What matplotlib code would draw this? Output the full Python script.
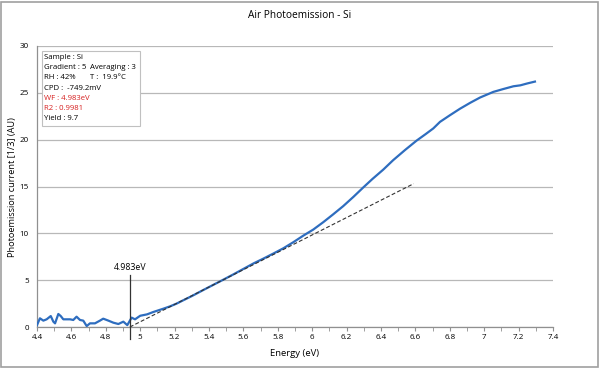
import matplotlib
matplotlib.use("Agg")
from matplotlib import pyplot as plt
from matplotlib.patches import Rectangle

plt.rcParams['font.family'] = ['Open Sans', 'DejaVu Sans']

# photoemission curve
energia = [4.40, 4.417, 4.437, 4.456, 4.48, 4.495, 4.505, 4.524, 4.538, 4.553,
           4.592, 4.611, 4.63, 4.65, 4.669, 4.689, 4.708, 4.737, 4.766, 4.785,
           4.815, 4.844, 4.873, 4.902, 4.925, 4.95, 4.97, 5.0, 5.04, 5.076,
           5.134, 5.173, 5.212, 5.25, 5.30, 5.367, 5.425, 5.483, 5.54, 5.6,
           5.66, 5.716, 5.775, 5.832, 5.89, 5.948, 6.006, 6.065, 6.12, 6.18,
           6.24, 6.297, 6.35, 6.413, 6.47, 6.54, 6.607, 6.66, 6.704, 6.743,
           6.80, 6.859, 6.92, 6.976, 7.053, 7.11, 7.17, 7.21, 7.25, 7.295]
corrente = [0.2, 0.93, 0.68, 0.82, 1.17, 0.57, 0.39, 1.39, 1.17, 0.82,
            0.82, 0.75, 1.1, 0.75, 0.68, 0.1, 0.39, 0.39, 0.68, 0.89,
            0.68, 0.46, 0.32, 0.57, 0.2, 1.0, 0.82, 1.2, 1.35, 1.6,
            1.95, 2.2, 2.5, 2.85, 3.3, 3.95, 4.5, 5.05, 5.6, 6.2,
            6.8, 7.3, 7.85, 8.4, 9.05, 9.75, 10.4, 11.2, 12.0, 12.9,
            13.9, 14.9, 15.8, 16.8, 17.8, 18.9, 19.9, 20.6, 21.2, 21.9,
            22.6, 23.3, 23.95, 24.5, 25.1, 25.4, 25.7, 25.8, 26.0, 26.2]

# linear fit (dashed)
fit_x = [4.94, 6.59]
fit_y = [0.0, 15.3]

# threshold marker
limiar_x = 4.94
limiar_y = [-1.3, 5.55]
limiar_label = "4.983eV"

info = [
    ("Sample : Si", "black"),
    ("Gradient : 5", "black"),
    ("RH : 42%", "black"),
    ("CPD :  -749.2mV", "black"),
    ("WF : 4.983eV", "#d62020"),
    ("R2 : 0.9981", "#d62020"),
    ("Yield : 9.7", "black"),
]
info_dir = {1: "Averaging : 3", 2: "T :  19.9\u00b0C"}

W, H = 600, 368
fig = plt.figure(figsize=(6, 3.68), dpi=100)

def px(x, y):
    return x / W, 1 - y / H

# figure frame
fig.patches.append(Rectangle((1 / W, 1 / H), 597 / W, 365 / H, transform=fig.transFigure,
                             fill=False, edgecolor="#a0a0a0", linewidth=1.2))

ax = fig.add_axes([37 / W, 1 - 327 / H, 516 / W, 281 / H])
ax.plot(energia, corrente, color="#2e6dbf", linewidth=1.6, zorder=3)
ax.plot(fit_x, fit_y, color="#333333", linewidth=0.8, linestyle=(0, (3.5, 2)), zorder=4)
ax.plot([limiar_x, limiar_x], limiar_y, color="#333333", linewidth=0.9, clip_on=False, zorder=4)
ax.text(limiar_x, limiar_y[1] + 0.3, limiar_label, ha="center", va="bottom", fontsize=6.3)

ax.set_xlim(4.4, 7.4)
ax.set_ylim(0, 30)
ax.set_xticks([4.4 + 0.2 * i for i in range(16)])
ax.set_xticklabels(["4.4", "4.6", "4.8", "5", "5.2", "5.4", "5.6", "5.8", "6",
                    "6.2", "6.4", "6.6", "6.8", "7", "7.2", "7.4"])
ax.set_xticks([4.5 + 0.2 * i for i in range(15)], minor=True)
ax.set_yticks([0, 5, 10, 15, 20, 25, 30])
ax.tick_params(axis="x", which="both", direction="out", length=3, color="#909090",
               labelsize=5.8, pad=2)
ax.tick_params(axis="y", length=0, labelsize=5.8, pad=6)
ax.grid(axis="y", color="#b8b8b8", linewidth=0.9)
ax.set_axisbelow(True)
for s in ["top", "right"]:
    ax.spines[s].set_visible(False)
for s in ["left", "bottom"]:
    ax.spines[s].set_color("#909090")
    ax.spines[s].set_linewidth(0.9)

fig.text(*px(300, 16), "Air Photoemission - Si", ha="center", va="center", fontsize=7.3)
fig.text(*px(294, 354), "Energy (eV)", ha="center", va="center", fontsize=6.8)
fig.text(*px(13, 187), "Photoemission current [1/3] (AU)", ha="center", va="center",
         rotation=90, fontsize=6.6)

# info box
fig.patches.append(Rectangle(px(42, 126), 98 / W, 75 / H, transform=fig.transFigure,
                             facecolor="white", edgecolor="#c0c0c0", linewidth=0.8, zorder=5))
for i, (linha, cor) in enumerate(info):
    y = 57.7 + i * 10.1
    fig.text(*px(44, y), linha, ha="left", va="center", fontsize=5.6, color=cor, zorder=6)
    if i in info_dir:
        fig.text(*px(90, y), info_dir[i], ha="left", va="center", fontsize=5.6, zorder=6)

fig.savefig("out.png", dpi=100)
